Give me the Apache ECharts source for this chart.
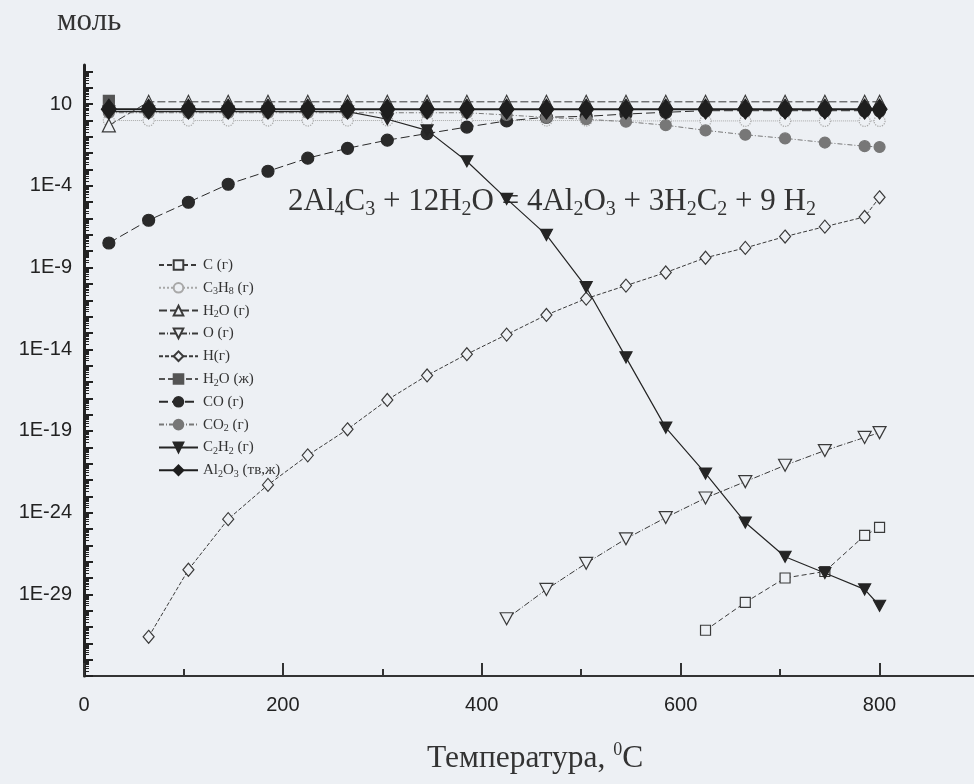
<!DOCTYPE html>
<html><head><meta charset="utf-8">
<script src="https://cdn.jsdelivr.net/npm/echarts@6/dist/echarts.min.js"></script>
<style>html,body{margin:0;padding:0;background:#edf0f4}#c{width:974px;height:784px}</style>
</head><body><div id="c"></div>
<script>
// ---------- data ----------
const temps = [25,65,105,145,185,225,265,305,345,385,425,465,505,545,585,625,665,705,745,785,800];
const seriesNames = ['C (г)','C3H8 (г)','H2O (г)','O (г)','H(г)','H2O (ж)','CO (г)','CO2 (г)','C2H2 (г)','Al2O3 (тв,ж)'];
const cGas   = [null,null,null,null,null,null,null,null,null,null,null,null,null,null,null,6.3e-32,3.2e-30,1e-28,2.5e-28,4e-26,1.26e-25];
const c3h8   = [1,1,1,1,1,1,1,1,1,1,1,1,1,0.95,0.95,0.95,0.95,0.95,0.95,0.95,0.95];
const h2oGas = [0.5,14,14,14,14,14,14,14,14,14,14,14,14,14,14,14,14,14,14,14,14];
const oGas   = [null,null,null,null,null,null,null,null,null,null,3.2e-31,2e-29,7.9e-28,2.5e-26,5e-25,7.9e-24,7.9e-23,7.9e-22,6.3e-21,4e-20,7.9e-20];
const hGas   = [null,2.5e-32,3.2e-28,4e-25,5e-23,3.2e-21,1.26e-19,7.9e-18,2.5e-16,5e-15,7.9e-14,1.26e-12,1.26e-11,7.9e-11,5e-10,4e-9,1.6e-8,7.9e-8,3.2e-7,1.26e-6,2e-5];
const h2oLiq = [16,null,null,null,null,null,null,null,null,null,null,null,null,null,null,null,null,null,null,null,null];
const coGas  = [3.2e-8,7.9e-7,1e-5,1.26e-4,7.9e-4,5e-3,0.02,0.063,0.16,0.4,0.95,1.6,1.8,2.5,3.2,4,4,4,4,4,4];
const co2Gas = [3,3,3,3,3,3,3,3,3,3,2.2,1.55,1.2,0.85,0.52,0.25,0.135,0.081,0.045,0.027,0.024];
const c2h2   = [3.5,3.5,3.5,3.5,3.5,3.5,3.5,1.2,0.25,3.2e-3,1.6e-5,1e-7,6.3e-11,3.2e-15,1.6e-19,2.5e-22,2.5e-25,2e-27,2e-28,2e-29,2e-30];
const al2o3  = [5,5,5,5,5,5,5,5,5,5,5,5,5,5,5,5,5,5,5,5,5];
const yTickValues = [1e1,1e-4,1e-9,1e-14,1e-19,1e-24,1e-29];
const yTickLabels = ['10','1E-4','1E-9','1E-14','1E-19','1E-24','1E-29'];
const xTickValues = [0,200,400,600,800];
const xTickLabels = ['0','200','400','600','800'];
const xMinorTicks = [100,300,500,700];
const equationText = '2Al4C3 + 12H2O = 4Al2O3 + 3H2C2 + 9 H2';
const yUnitText = 'моль';

// ---------- helpers ----------
const BG = '#edf0f4';
const Y_MIN = 1e-34, Y_MAX = Math.pow(10, 3.4);
const decadeTicks = []; const minorYTicks = [];
for (let k = -34; k <= 3; k++) {
  decadeTicks.push(Math.pow(10, k));
  if (k < 3) for (let m = 2; m <= 9; m++) minorYTicks.push(m * Math.pow(10, k));
}
function chemRich(str, main, sub) {
  let out = '', cur = null, buf = '', prevLetter = false, prevSub = false;
  for (const ch of str) {
    const isDigit = /[0-9]/.test(ch);
    const isSub = isDigit && (prevLetter || prevSub);
    const st = isSub ? sub : main;
    if (st !== cur) { if (buf) out += '{' + cur + '|' + buf + '}'; buf = ''; cur = st; }
    buf += ch;
    prevLetter = /[A-Za-z]/.test(ch);
    prevSub = isSub;
  }
  if (buf) out += '{' + cur + '|' + buf + '}';
  return out;
}
function xLabel(v) {
  const i = xTickValues.findIndex(t => Math.abs(t - v) < 1e-6);
  return i >= 0 ? xTickLabels[i] : '';
}
function yLabel(v) {
  if (!(v > 0)) return '';
  const lv = Math.log10(v);
  let best = -1, bd = 1e9;
  yTickValues.forEach((t, i) => { const d = Math.abs(Math.log10(t) - lv); if (d < bd) { bd = d; best = i; } });
  return bd < 0.01 ? yTickLabels[best] : '';
}
function pairs(arr) { return temps.map((t, i) => [t, arr[i] == null ? '-' : arr[i]]); }
function mk(idx, arr, symbol, size, fill, border, line, extra) {
  return Object.assign({
    type: 'line', name: seriesNames[idx], data: pairs(arr),
    symbol: symbol, symbolSize: size,
    itemStyle: { color: fill, borderColor: border, borderWidth: 1.2 },
    lineStyle: line, connectNulls: false, silent: true,
    emphasis: { disabled: true }, z: 2 + idx * 0.1
  }, extra || {});
}

const series = [
  mk(0, cGas, 'rect', 10, BG, '#3a3a3a', { color: '#3a3a3a', width: 1, type: [5, 3] }),
  mk(1, c3h8, 'circle', 11, BG, '#a8a8a8', { color: '#a8a8a8', width: 1, type: 'dotted' }, { itemStyle: { color: BG, borderColor: '#a8a8a8', borderWidth: 1.2, borderType: 'dotted' } }),
  mk(2, h2oGas, 'triangle', [13, 13], BG, '#3a3a3a', { color: '#3a3a3a', width: 1, type: [8, 3] }),
  mk(3, oGas, 'triangle', [13, 12], BG, '#3a3a3a', { color: '#3a3a3a', width: 1, type: [6, 2, 1, 2] }, { symbolRotate: 180 }),
  mk(4, hGas, 'diamond', [11, 13], BG, '#3a3a3a', { color: '#3a3a3a', width: 1, type: [4, 2] }),
  mk(5, h2oLiq, 'rect', 11, '#555', '#555', { color: '#555', width: 1, type: [6, 3] }),
  mk(6, coGas, 'circle', 12, '#2a2a2a', '#2a2a2a', { color: '#2a2a2a', width: 1, type: [9, 4] }),
  mk(7, co2Gas, 'circle', 11, '#777', '#777', { color: '#777', width: 1, type: [5, 2, 1, 2] }),
  mk(8, c2h2, 'triangle', [12, 11], '#252525', '#252525', { color: '#252525', width: 1.2, type: 'solid' }, { symbolRotate: 180 }),
  mk(9, al2o3, 'diamond', [15, 20], '#1e1e1e', '#1e1e1e', { color: '#1e1e1e', width: 2, type: 'solid' })
];

const chart = echarts.init(document.getElementById('c'), null, { renderer: 'canvas' });
const serif = 'Liberation Serif';
chart.setOption({
  animation: false,
  backgroundColor: BG,
  grid: { left: 84, right: -5, top: 65, bottom: 108, containLabel: false, outerBoundsMode: 'none' },
  xAxis: [
    { type: 'value', min: 0, max: 900, position: 'bottom',
      axisLine: { show: true, onZero: false, lineStyle: { color: '#333', width: 2 } },
      axisTick: { show: true, inside: true, length: 13, lineStyle: { color: '#333', width: 2 }, customValues: xTickValues },
      axisLabel: { show: true, customValues: xTickValues, margin: 19, color: '#222', fontFamily: 'Liberation Sans', fontSize: 20,
        formatter: xLabel },
      splitLine: { show: false } },
    { type: 'value', min: 0, max: 900, position: 'bottom', offset: 0,
      axisLine: { show: false }, axisLabel: { show: false }, splitLine: { show: false },
      axisTick: { show: true, inside: true, length: 7, lineStyle: { color: '#333', width: 2 }, customValues: xMinorTicks } }
  ],
  yAxis: [
    { type: 'log', logBase: 10, min: Y_MIN, max: Y_MAX, position: 'left',
      axisLine: { show: true, onZero: false, lineStyle: { color: '#222', width: 3 } },
      axisTick: { show: true, inside: true, length: 9, lineStyle: { color: '#222', width: 2 }, customValues: decadeTicks },
      axisLabel: { show: true, customValues: yTickValues, margin: 12, color: '#222', fontFamily: 'Liberation Sans', fontSize: 20,
        formatter: yLabel },
      splitLine: { show: false }, minorTick: { show: false } },
    { type: 'log', logBase: 10, min: Y_MIN, max: Y_MAX, position: 'left', offset: 0,
      axisLine: { show: false }, axisLabel: { show: false }, splitLine: { show: false },
      axisTick: { show: true, inside: true, length: 5, lineStyle: { color: '#222', width: 1 }, customValues: minorYTicks } }
  ],
  legend: {
    show: true, orient: 'vertical', left: 158, top: 256,
    itemWidth: 39, itemHeight: 12, itemGap: 4.8, padding: 0,
    data: seriesNames,
    selectedMode: false,
    formatter: name => chemRich(name, 'm', 's'),
    textStyle: {
      color: '#333', fontFamily: serif, fontSize: 15, lineHeight: 18,
      rich: {
        m: { color: '#333', fontFamily: serif, fontSize: 15, lineHeight: 18 },
        s: { color: '#333', fontFamily: serif, fontSize: 10, lineHeight: 10, verticalAlign: 'bottom' }
      }
    }
  },
  graphic: [
    { type: 'text', z: 0, left: 57, top: 6, style: { text: yUnitText, font: '31px "Liberation Serif"', fill: '#333' } },
    { type: 'text', z: 0, x: 288, y: 183,
      style: { text: chemRich(equationText, 'm', 's'), fill: '#333',
        rich: { m: { fontFamily: serif, fontSize: 31, fill: '#333', lineHeight: 37 },
                s: { fontFamily: serif, fontSize: 20, fill: '#333', lineHeight: 20, verticalAlign: 'bottom' } } } },
    { type: 'text', z: 0, x: 427, y: 741,
      style: { text: '{m|Температура, }{p|0}{m|C}', fill: '#333',
        rich: { m: { fontFamily: serif, fontSize: 31.5, fill: '#333', lineHeight: 35 },
                p: { fontFamily: serif, fontSize: 18, fill: '#333', lineHeight: 18, verticalAlign: 'top' } } } }
  ],
  series: series
});
</script></body></html>
